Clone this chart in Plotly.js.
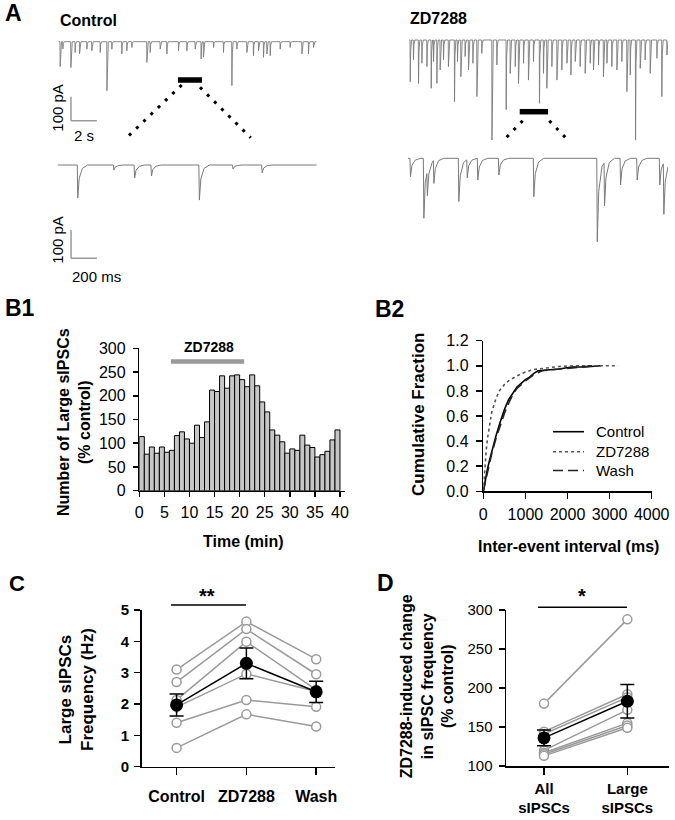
<!DOCTYPE html>
<html><head><meta charset="utf-8">
<script src="https://cdn.plot.ly/plotly-3.0.1.min.js"></script>
<style>html,body{margin:0;padding:0;background:#fff}#chart{width:675px;height:820px}</style>
</head><body><div id="chart"></div>
<script>
// ================= DATA =================
// Panel A: spontaneous IPSC events (time in s, amplitude in pA)
const ctrlTopT = [0.13,0.34,0.96,1.29,1.63,2.2,2.58,3.23,3.75,4.13,4.9,5.29,5.68,6.84,7.1,7.87,8.39,9.29,9.94,10.58,11.04,11.22,12.0,12.77,13.42,13.81,14.58,15.09,15.48,15.87,16.13,16.39,17.16,17.93,18.84,19.35,19.74];
const ctrlTopA = [104,30,108,45,51,31,38,45,204,31,51,38,24,86,45,31,51,38,38,31,72,65,24,45,183,31,45,58,38,65,51,58,31,24,51,51,24];
const ctrlBotT = [0.151,0.43,0.59,0.72,1.09,1.35,1.575];
const ctrlBotA = [117,18,46,39,124,14,28];
const zdTopT = [0.08,0.33,0.72,0.98,1.37,1.70,1.88,2.14,2.39,2.65,3.03,3.5,3.73,3.99,4.32,4.58,4.92,5.23,5.61,6.39,6.77,7.49,7.8,8.19,8.44,8.83,9.21,9.6,10.06,10.37,10.63,11.02,11.41,11.79,12.18,12.49,12.82,13.2,13.59,13.98,14.23,14.62,15.0,15.27,15.65,16.04,16.42,16.81,17.07,17.48,17.84,18.22,18.61,19.13,19.51,19.9];
const zdTopA = [174,83,181,97,111,201,90,181,125,83,111,257,90,153,69,125,97,236,56,417,104,290,139,111,181,97,167,90,264,139,201,111,167,125,97,146,90,111,139,97,125,104,153,97,111,125,90,215,146,417,118,83,139,76,236,63];
const zdBotT = [0.015,0.118,0.145,0.195,0.387,0.452,0.533,0.695,0.964,1.452,1.508,1.631,1.759,1.933,1.964];
const zdBotA = [65,212,88,83,153,65,77,59,136,295,153,94,77,94,183];
const topDuration = 20;      // s
const botDuration = 2;       // s
const ctrlWindow = [9.26, 11.12];  // s, expanded segment
const zdWindow = [8.55, 10.74];

// Panel B1: histogram
const histMinutes = [0.5,1.5,2.5,3.5,4.5,5.5,6.5,7.5,8.5,9.5,10.5,11.5,12.5,13.5,14.5,15.5,16.5,17.5,18.5,19.5,20.5,21.5,22.5,23.5,24.5,25.5,26.5,27.5,28.5,29.5,30.5,31.5,32.5,33.5,34.5,35.5,36.5,37.5,38.5,39.5];
const histValues = [114,77,92,79,92,81,85,116,124,109,100,138,112,145,212,209,242,216,242,244,234,219,244,221,187,166,128,117,103,79,88,85,117,96,91,71,76,83,107,128];
const drugPeriod = [6.3, 20.9];
const drugName = 'ZD7288';

// Panel B2: cumulative distributions of inter-event intervals (ms)
const cdfCtrlX = [0,50,100,150,200,300,400,500,600,700,800,900,1000,1100,1200,1300,1500,1800,2100,2400,2800];
const cdfCtrlY = [0,0.10,0.18,0.25,0.32,0.44,0.55,0.65,0.73,0.78,0.83,0.86,0.89,0.91,0.94,0.96,0.965,0.975,0.99,0.99,1.0];
const cdfZdX = [0,20,40,70,100,150,200,300,400,500,600,800,1000,1200,1500,1800,2200,2600,3200];
const cdfZdY = [0,0.12,0.22,0.33,0.42,0.54,0.63,0.74,0.81,0.85,0.88,0.92,0.95,0.97,0.985,0.995,1.0,1.0,1.0];
const cdfWashX = [0,50,100,150,200,300,400,500,600,700,800,1000,1200,1400,1700,2000,2300,2600];
const cdfWashY = [0,0.08,0.16,0.23,0.30,0.42,0.53,0.62,0.70,0.77,0.82,0.88,0.93,0.96,0.97,0.98,0.99,1.0];
const cdfNames = ['Control','ZD7288','Wash'];

// Panel C: large sIPSC frequency (Hz), per cell
const catC = ['Control','ZD7288','Wash'];
const cellCtrl = [3.10,2.70,2.13,1.90,1.40,0.60];
const cellZd   = [4.63,4.39,3.99,2.96,2.13,1.67];
const cellWash = [3.43,2.95,2.45,2.40,1.91,1.28];
const meanC = [1.97,3.30,2.39];
const semC  = [0.35,0.49,0.34];
const sigC = '**';

// Panel D: ZD7288-induced change (% control)
const catD = ['All<br>sIPSCs','Large<br>sIPSCs'];
const cellAll   = [180,144,141,120,117,115,113];
const cellLarge = [288,192,188,172,155,152,149];
const meanD = [136,183];
const semD  = [10,21.5];
const sigD = '*';

// ================= HELPERS =================
const W = 675, H = 820;
const px = x => x / W;
const py = y => 1 - y / H;
const F = 'Arial, "Liberation Sans", Helvetica, sans-serif';

// synaptic-current template: fractional amplitude vs time after onset
function buildTrace(times, amps, dtK, fK, tEnd) {
  let ts = [0, tEnd];
  times.forEach(t => dtK.forEach(d => ts.push(t + d)));
  ts = ts.filter(t => t >= 0 && t <= tEnd).sort((a, b) => a - b);
  const ys = ts.map(t => {
    let s = 0;
    for (let i = 0; i < times.length; i++) {
      const u = t - times[i];
      if (u < dtK[0] || u > dtK[dtK.length - 1]) continue;
      for (let k = 0; k < dtK.length - 1; k++) {
        if (u >= dtK[k] && u <= dtK[k + 1]) {
          s += amps[i] * (fK[k] + (fK[k + 1] - fK[k]) * (u - dtK[k]) / (dtK[k + 1] - dtK[k]));
          break;
        }
      }
    }
    return -s;
  });
  return {x: ts, y: ys};
}
const kTopDt = [0, 0.015, 0.05, 0.12], kTopF = [0, 1, 0.25, 0];
const kBotDt = [0, 0.004, 0.015, 0.04, 0.08], kBotF = [0, 1, 0.4, 0.1, 0];

// pixel geometry of trace panels
const gTop = {ctrl: {x0: 58.3, x1: 316.7, base: 41.7, top: 35, bot: 125, s: 0.24},
              zd:   {x0: 409, x1: 668, base: 40, top: 35, bot: 145, s: 0.24}};
const gBot = {ctrl: {x0: 57.7, x1: 316.7, base: 165, top: 150, bot: 262, s: 0.283},
              zd:   {x0: 408, x1: 668, base: 158.3, top: 148, bot: 250, s: 0.283}};
function traceAxes(g, dur) {
  return [
    {domain: [px(g.x0), px(g.x1)], range: [0, dur], visible: false, fixedrange: true},
    {domain: [py(g.bot), py(g.top)], range: [-(g.bot - g.base) / g.s, (g.base - g.top) / g.s], visible: false, fixedrange: true}
  ];
}
const pAy = (g, ypx) => -(ypx - g.base) / g.s;

function axisBase(extra) {
  return Object.assign({
    showgrid: false, zeroline: false, showline: true, linecolor: '#000', linewidth: 1.5,
    ticks: 'outside', ticklen: 5, tickwidth: 1.5, tickcolor: '#000',
    tickfont: {family: F, size: 15, color: '#000'}, fixedrange: true
  }, extra);
}

// ================= TRACES =================
const traces = [];
// B1 histogram
traces.push({type: 'bar', x: histMinutes, y: histValues, width: 1, xaxis: 'x', yaxis: 'y',
  marker: {color: '#c6c6c6', line: {color: '#000', width: 1}}, showlegend: false, hoverinfo: 'skip'});
// B2 CDFs
const cdfStyles = [{color: '#000', width: 1.6}, {color: '#555', width: 1.6, dash: 'dot'}, {color: '#222', width: 1.6, dash: '10px,5px'}];
traces.push({type: 'scatter', mode: 'lines', x: cdfCtrlX, y: cdfCtrlY, name: cdfNames[0], xaxis: 'x2', yaxis: 'y2', line: cdfStyles[0], showlegend: false});
traces.push({type: 'scatter', mode: 'lines', x: cdfZdX, y: cdfZdY, name: cdfNames[1], xaxis: 'x2', yaxis: 'y2', line: cdfStyles[1], showlegend: false});
traces.push({type: 'scatter', mode: 'lines', x: cdfWashX, y: cdfWashY, name: cdfNames[2], xaxis: 'x2', yaxis: 'y2', line: cdfStyles[2], showlegend: false});
// C individual cells
for (let i = 0; i < cellCtrl.length; i++) {
  traces.push({type: 'scatter', mode: 'lines+markers', x: [0, 1, 2], y: [cellCtrl[i], cellZd[i], cellWash[i]],
    xaxis: 'x3', yaxis: 'y3', showlegend: false, cliponaxis: false,
    line: {color: '#9a9a9a', width: 1.5},
    marker: {symbol: 'circle', size: 9, color: '#fff', line: {color: '#9a9a9a', width: 1.5}}});
}
traces.push({type: 'scatter', mode: 'lines+markers', x: [0, 1, 2], y: meanC, xaxis: 'x3', yaxis: 'y3', showlegend: false,
  cliponaxis: false, line: {color: '#000', width: 1.5}, marker: {size: 13, color: '#000'},
  error_y: {type: 'data', array: semC, visible: true, color: '#000', thickness: 1.5, width: 7}});
// D individual cells
for (let i = 0; i < cellAll.length; i++) {
  traces.push({type: 'scatter', mode: 'lines+markers', x: [0, 1], y: [cellAll[i], cellLarge[i]],
    xaxis: 'x4', yaxis: 'y4', showlegend: false, cliponaxis: false,
    line: {color: '#9a9a9a', width: 1.5},
    marker: {symbol: 'circle', size: 9, color: '#fff', line: {color: '#9a9a9a', width: 1.5}}});
}
traces.push({type: 'scatter', mode: 'lines+markers', x: [0, 1], y: meanD, xaxis: 'x4', yaxis: 'y4', showlegend: false,
  cliponaxis: false, line: {color: '#000', width: 1.5}, marker: {size: 13, color: '#000'},
  error_y: {type: 'data', array: semD, visible: true, color: '#000', thickness: 1.5, width: 7}});
// A recordings
const tr1 = buildTrace(ctrlTopT, ctrlTopA, kTopDt, kTopF, topDuration);
const tr2 = buildTrace(ctrlBotT, ctrlBotA, kBotDt, kBotF, botDuration);
const tr3 = buildTrace(zdTopT, zdTopA, kTopDt, kTopF, topDuration);
const tr4 = buildTrace(zdBotT, zdBotA, kBotDt, kBotF, botDuration);
[[tr1, 'x5', 'y5', 0.9], [tr2, 'x6', 'y6', 1.0], [tr3, 'x7', 'y7', 0.9], [tr4, 'x8', 'y8', 1.0]].forEach(([t, xa, ya, w]) => {
  traces.push({type: 'scatter', mode: 'lines', x: t.x, y: t.y, xaxis: xa, yaxis: ya, showlegend: false,
    hoverinfo: 'skip', line: {color: '#7a7a7a', width: w}});
});

// ================= LAYOUT =================
const [ax5, ay5] = traceAxes(gTop.ctrl, topDuration);
const [ax6, ay6] = traceAxes(gBot.ctrl, botDuration);
const [ax7, ay7] = traceAxes(gTop.zd, topDuration);
const [ax8, ay8] = traceAxes(gBot.zd, botDuration);

const shapes = [];
// drug application bar (B1)
shapes.push({type: 'line', xref: 'x', yref: 'y', x0: drugPeriod[0], x1: drugPeriod[1], y0: 272, y1: 272,
  line: {color: '#999', width: 4.5}});
// significance bars
shapes.push({type: 'line', xref: 'paper', yref: 'paper', x0: px(171), x1: px(246), y0: py(605), y1: py(605), line: {color: '#000', width: 1.5}});
shapes.push({type: 'line', xref: 'paper', yref: 'paper', x0: px(538), x1: px(627), y0: py(607.3), y1: py(607.3), line: {color: '#000', width: 1.5}});
// expanded-window bars
shapes.push({type: 'line', xref: 'x5', yref: 'y5', x0: ctrlWindow[0], x1: ctrlWindow[1], y0: pAy(gTop.ctrl, 80), y1: pAy(gTop.ctrl, 80), line: {color: '#000', width: 5.5}});
shapes.push({type: 'line', xref: 'x7', yref: 'y7', x0: zdWindow[0], x1: zdWindow[1], y0: pAy(gTop.zd, 111.7), y1: pAy(gTop.zd, 111.7), line: {color: '#000', width: 5.5}});
// dotted zoom guides
const dotted = {color: '#000', width: 3, dash: '3px,7px'};
[[181.7, 85, 125, 139.3], [200, 87.3, 250.7, 137.7], [522.7, 120.7, 501.7, 142.3], [549.3, 120.7, 570, 142.3]].forEach(([a, b, c, d]) => {
  shapes.push({type: 'line', xref: 'paper', yref: 'paper', x0: px(a), y0: py(b), x1: px(c), y1: py(d), line: dotted});
});
// scale bars (100 pA vertical, 2 s / 200 ms horizontal)
const sb = {color: '#999', width: 1.5};
{
  const g = gTop.ctrl, yb = pAy(g, 120.7), t0 = 0.98;
  shapes.push({type: 'line', xref: 'x5', yref: 'y5', x0: t0, x1: t0, y0: yb, y1: yb + 100, line: sb});
  shapes.push({type: 'line', xref: 'x5', yref: 'y5', x0: t0, x1: t0 + 2, y0: yb, y1: yb, line: sb});
}
{
  const g = gBot.ctrl, yb = pAy(g, 258.3), t0 = 0.103;
  shapes.push({type: 'line', xref: 'x6', yref: 'y6', x0: t0, x1: t0, y0: yb, y1: yb + 100, line: sb});
  shapes.push({type: 'line', xref: 'x6', yref: 'y6', x0: t0, x1: t0 + 0.2, y0: yb, y1: yb, line: sb});
}
// B2 legend samples
const legY = [431.7, 451.7, 470.5];
legY.forEach((y, i) => {
  shapes.push({type: 'line', xref: 'paper', yref: 'paper', x0: px(553), x1: px(584), y0: py(y), y1: py(y), line: cdfStyles[i]});
});

function ann(text, x, y, o) {
  return Object.assign({text: text, x: px(x), y: py(y), xref: 'paper', yref: 'paper', showarrow: false,
    xanchor: 'center', yanchor: 'middle', font: {family: F, size: 16, color: '#000', weight: 'bold'}}, o || {});
}
const bold = (s) => ({family: F, size: s, color: '#000', weight: 'bold'});
const reg = (s) => ({family: F, size: s, color: '#000'});
const annotations = [
  ann('A', 3, 13, {xanchor: 'left', font: bold(23)}),
  ann('Control', 58, 20, {xanchor: 'left', font: bold(16)}),
  ann('ZD7288', 408, 18, {xanchor: 'left', font: bold(16)}),
  ann('100 pA', 56.7, 108, {textangle: -90, font: reg(15)}),
  ann('2 s', 72, 135, {xanchor: 'left', font: reg(15)}),
  ann('100 pA', 56.7, 240, {textangle: -90, font: reg(15)}),
  ann('200 ms', 70, 276.7, {xanchor: 'left', font: reg(15)}),
  ann('B1', 3, 308, {xanchor: 'left', font: bold(23)}),
  ann('B2', 373, 309, {xanchor: 'left', font: bold(23)}),
  ann('C', 7, 583.3, {xanchor: 'left', font: bold(22)}),
  ann('D', 375, 583.3, {xanchor: 'left', font: bold(23)}),
  {text: drugName, x: 13.8, xref: 'x', y: py(346.7), yref: 'paper', showarrow: false, xanchor: 'center', yanchor: 'middle', font: bold(14)},
  ann('Number of Large sIPSCs<br>(% control)', 74, 422, {textangle: -90, font: bold(16)}),
  ann('Time (min)', 244, 541.7, {font: bold(16)}),
  ann('Cumulative Fraction', 418, 415, {textangle: -90, font: bold(17)}),
  ann('Inter-event interval (ms)', 568, 546.7, {font: bold(16)}),
  ann('Large sIPSCs<br>Frequency (Hz)', 76, 690, {textangle: -90, font: bold(17)}),
  ann('ZD7288-induced change<br>in sIPSC frequency<br>(% control)', 427.6, 686.7, {textangle: -90, font: bold(16)}),
  ann(sigC, 206.7, 595.7, {font: bold(20)}),
  ann(sigD, 581.7, 596.4, {font: bold(20)})
];
cdfNames.forEach((n, i) => annotations.push(ann(n, 594, legY[i], {xanchor: 'left', font: reg(15)})));

const layout = {
  width: W, height: H, margin: {l: 0, r: 0, t: 0, b: 0},
  paper_bgcolor: '#fff', plot_bgcolor: 'rgba(0,0,0,0)',
  bargap: 0, showlegend: false,
  xaxis: axisBase({domain: [px(139.3), px(345)], range: [0, 41], tickvals: [0,5,10,15,20,25,30,35,40], anchor: 'y', ticklabelstandoff: 2, tickfont: reg(16)}),
  yaxis: axisBase({domain: [py(490.7), py(348.3)], range: [0, 300], dtick: 50, anchor: 'x', ticklabelstandoff: 4, tickfont: reg(16)}),
  xaxis2: axisBase({domain: [px(483.3), px(651.7)], range: [0, 4000], dtick: 1000, anchor: 'y2', ticklen: 6, ticklabelstandoff: 2, tickfont: reg(16)}),
  yaxis2: axisBase({domain: [py(491.3), py(340.7)], range: [0, 1.2], dtick: 0.2, tickformat: '.1f', anchor: 'x2', ticklen: 6, ticklabelstandoff: 4, tickfont: reg(16)}),
  xaxis3: axisBase({domain: [px(141.7), px(335)], range: [-0.5, 2.27], tickvals: [0, 1, 2], ticktext: catC, anchor: 'y3', ticklen: 7, ticklabelstandoff: 8, tickfont: bold(16)}),
  yaxis3: axisBase({domain: [py(766.7), py(610)], range: [0, 5], dtick: 1, anchor: 'x3', ticklen: 6, ticklabelstandoff: 2, tickfont: bold(15)}),
  xaxis4: axisBase({domain: [px(506), px(669)], range: [-0.456, 1.5], tickvals: [0, 1], ticktext: catD, anchor: 'y4', ticklen: 7, ticklabelstandoff: 1, tickfont: bold(15)}),
  yaxis4: axisBase({domain: [py(766), py(610)], range: [100, 300], dtick: 50, anchor: 'x4', ticklen: 6, ticklabelstandoff: 3, tickfont: reg(15)}),
  xaxis5: Object.assign(ax5, {anchor: 'y5'}), yaxis5: Object.assign(ay5, {anchor: 'x5'}),
  xaxis6: Object.assign(ax6, {anchor: 'y6'}), yaxis6: Object.assign(ay6, {anchor: 'x6'}),
  xaxis7: Object.assign(ax7, {anchor: 'y7'}), yaxis7: Object.assign(ay7, {anchor: 'x7'}),
  xaxis8: Object.assign(ax8, {anchor: 'y8'}), yaxis8: Object.assign(ay8, {anchor: 'x8'}),
  shapes: shapes, annotations: annotations
};

Plotly.newPlot('chart', traces, layout, {displayModeBar: false, staticPlot: true});
</script>
</body></html>
